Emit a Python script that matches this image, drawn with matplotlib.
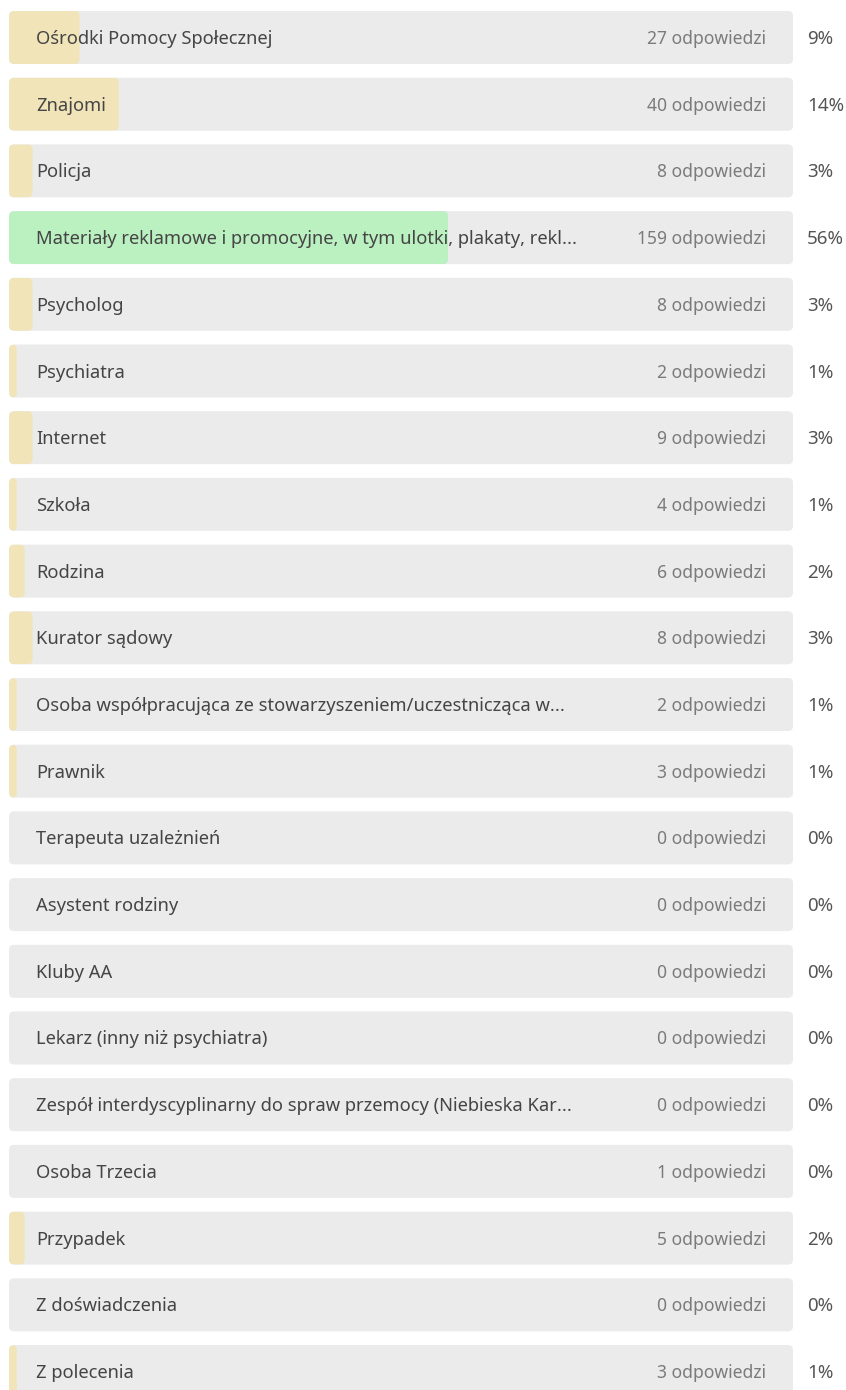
import matplotlib
matplotlib.use("Agg")
import matplotlib.pyplot as plt
from matplotlib.patches import FancyBboxPatch

labels = [
    "Ośrodki Pomocy Społecznej",
    "Znajomi",
    "Policja",
    "Materiały reklamowe i promocyjne, w tym ulotki, plakaty, rekl...",
    "Psycholog",
    "Psychiatra",
    "Internet",
    "Szkoła",
    "Rodzina",
    "Kurator sądowy",
    "Osoba współpracująca ze stowarzyszeniem/uczestnicząca w...",
    "Prawnik",
    "Terapeuta uzależnień",
    "Asystent rodziny",
    "Kluby AA",
    "Lekarz (inny niż psychiatra)",
    "Zespół interdyscyplinarny do spraw przemocy (Niebieska Kar...",
    "Osoba Trzecia",
    "Przypadek",
    "Z doświadczenia",
    "Z polecenia",
]
counts = [27, 40, 8, 159, 8, 2, 9, 4, 6, 8, 2, 3, 0, 0, 0, 0, 0, 1, 5, 0, 3]
percents = [9, 14, 3, 56, 3, 1, 3, 1, 2, 3, 1, 1, 0, 0, 0, 0, 0, 0, 2, 0, 1]

W, H = 846, 1390
fig = plt.figure(figsize=(W / 100, H / 100), dpi=100)
fig.patch.set_facecolor("white")

x0, x1 = 9, 793
pitch = 66.7
first_center = 37.5
ax = fig.add_axes([x0 / W, 0, (x1 - x0) / W, 1])
ax.set_xlim(0, 100)
ax.set_ylim((H - first_center) / pitch, -first_center / pitch)
ax.axis("off")

px_x = (x1 - x0) / 100.0  # px per x unit
aspect = (1 / pitch) / (1 / px_x)
bar_h = 53 / pitch
r = 5 / px_x
dy = 1.5 / pitch

font = ["Noto Sans", "DejaVu Sans"]
bg_color = "#ebebeb"
yellow = "#f1e4b9"
green = "#bbf0c0"

rows = list(range(len(labels)))
bg = ax.barh(rows, [100] * len(rows), height=bar_h, color="none")
fg = ax.barh(rows, percents, height=bar_h, color="none")

top_pct = max(percents)
for i, (b, f) in enumerate(zip(bg, fg)):
    bx, by = b.get_xy()
    bp = FancyBboxPatch((bx, by), b.get_width(), b.get_height(),
                        boxstyle=f"round,pad=0,rounding_size={r}",
                        mutation_aspect=aspect, fc=bg_color, ec="none", zorder=1)
    ax.add_patch(bp)
    if f.get_width() > 0:
        fx, fy = f.get_xy()
        fp = FancyBboxPatch((fx, fy), f.get_width(), f.get_height(),
                            boxstyle=f"round,pad=0,rounding_size={r}",
                            mutation_aspect=aspect,
                            fc=green if percents[i] == top_pct else yellow,
                            ec="none", zorder=2)
        ax.add_patch(fp)
        fp.set_clip_path(bp)
    ax.text((36 - x0) / px_x, i + dy, labels[i], ha="left", va="center",
            fontsize=13.2, color="#454545", family=font, zorder=3)
    ax.text((766 - x0) / px_x, i + dy, f"{counts[i]} odpowiedzi", ha="right", va="center",
            fontsize=12.6, color="#7b7b7b", family=font, zorder=3)
    ax.text((807 - x0) / px_x, i + dy, f"{percents[i]}%", ha="left", va="center",
            fontsize=13.5, color="#555555", family=font, zorder=3, clip_on=False)

fig.savefig("out.png", dpi=100, facecolor="white")
